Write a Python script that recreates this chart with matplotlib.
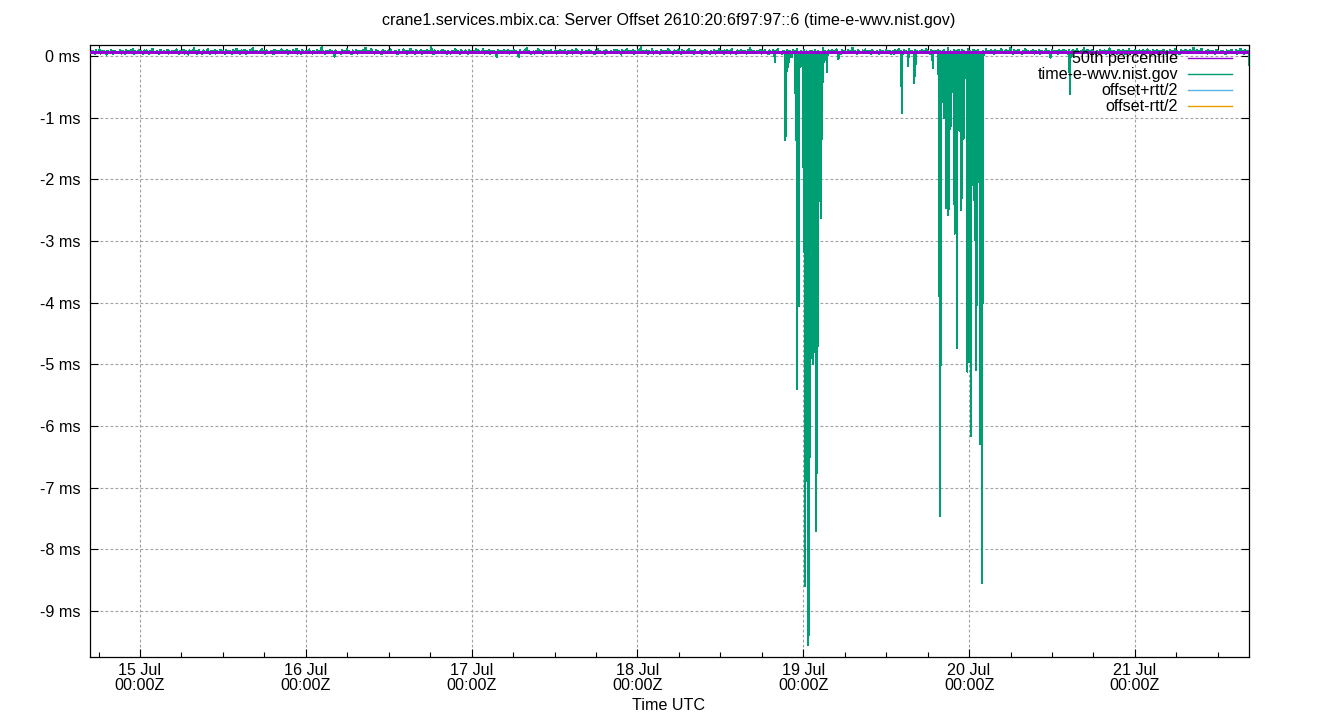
import numpy as np
import matplotlib
matplotlib.use("Agg")
import matplotlib.pyplot as plt
import matplotlib.dates as mdates
from matplotlib.lines import Line2D
from datetime import datetime

plt.rcParams['font.family'] = ['Liberation Sans', 'DejaVu Sans']

TITLE = "crane1.services.mbix.ca: Server Offset 2610:20:6f97:97::6 (time-e-wwv.nist.gov)"
X_LABEL = "Time UTC"
SERVER = "time-e-wwv.nist.gov"
LEGEND_LABELS = ["50th percentile", SERVER, "offset+rtt/2", "offset-rtt/2"]
COLORS = ["#9400d3", "#009e73", "#56b4e9", "#e69f00"]

epoch = datetime(2024, 7, 15)          # 15 Jul 00:00Z
x_range_h = [-7.24, 160.51]            # hours from epoch
y_range_ms = [-9.75, 0.18]
y_ticks_ms = [0, -1, -2, -3, -4, -5, -6, -7, -8, -9]

# baseline offsets (microseconds), one sample every 10 minutes
base_start_h = -7.2
base_step_h = 1.0 / 6.0
base_us = [
    62, 45, 88, 71, 30, 95, 58, 66, 112, 40, 77, 52, 84, 63, 25, 90, 70, 48, 101, 57, 35, 82, 68, 74,
    70, 52, 97, 41, 83, 66, 29, 104, 58, 75, 47, 92, 63, 118, 39, 80, 56, 72, 99, 44, 86, 61, 33, 95,
    50, 93, 61, 38, 79, 66, 120, 44, 72, 55, 87, 60, 31, 98, 64, 47, 83, 69, 58, 105, 42, 76, 53, 89,
    64, 78, 49, 110, 57, 36, 89, 71, 53, 101, 42, 84, 67, 25, 93, 60, 76, 48, 127, 55, 81, 38, 97, 62,
    67, 36, 91, 59, 73, 48, 110, 62, 28, 85, 70, 54, 96, 41, 78, 65, 57, 102, 46, 80, 61, 33, 92, 69,
    45, 87, 73, 31, 99, 59, 68, 114, 50, 79, 42, 91, 65, 56, 103, 37, 82, 70, 47, 96, 61, 132, 54, 77,
    55, 86, 43, 75, 64, 118, 50, 81, 37, 94, 60, 72, 49, 88, 66, 27, 99, 58, 76, 45, 84, 63, 107, 52,
    88, 43, 69, 100, 35, 83, 62, 57, 94, 48, 75, 121, 40, 86, 66, 28, 98, 59, 73, 51, 90, 64, 107, 46,
    71, 39, 90, 62, 56, 97, 44, 79, 68, 155, 51, 74, 35, 87, 65, 59, 103, 48, 82, 60, -8, 93, 70, 57,
    72, 58, 39, 96, 67, 84, 50, 113, 44, 79, 61, 30, 92, 70, 55, 102, 41, 87, 63, 76, 48, 99, 57, 134,
    78, 46, 89, 64, 115, 53, 72, 40, 95, 61, 83, 50, 68, 32, 100, 58, 77, 66, 44, 91, 63, 108, 55, 74,
    53, 81, 65, 27, 97, 60, 74, 46, 108, 56, 89, 38, 78, 64, 120, 50, 85, 68, 33, 94, 59, 71, 45, 100,
    38, 86, 69, 52, 97, 60, 80, 47, 150, 65, 29, 92, 71, 56, 84, 43, 76, 62, 104, 50, 88, 67, 34, 79,
    66, 42, 90, 77, 55, 111, 48, 83, 62, 36, 98, 58, 73, 51, 92, 67, 29, 104, 60, 80, 46, 88, 65, 117,
    61, 94, 48, 73, 58, 111, 42, 85, 66, 54, 98, 37, 77, 63, 89, 51, 70, -18, 96, 59, 82, 68, 45, 101,
    49, 76, 59, 95, 40, 85, 69, 54, 103, 44, 81, 63, -15, 97, 57, 74, 50, 91, 66, 126, 43, 82, 61, 38,
    57, 75, 40, 90, 64, 119, 53, 81, 67, 33, 93, 60, 78, 46, 87, 62, 106, 49, 72, 58, 95, 39, 84, 66,
    93, 58, 79, 47, 106, 64, 32, 88, 71, 55, 99, 41, 84, 62, 115, 52, 77, 67, 35, 96, 60, 73, 48, 90,
    55, 99, 44, 80, 63, 71, 28, 91, 59, 113, 48, 76, 65, 52, 88, 36, 97, 61, 74, 43, 85, 68, 57, 102,
    57, 102, 45, 80, 68, 26, 94, 61, 75, 52, 119, 43, 87, 65, 56, 100, 38, 83, 70, 49, 97, 59, 142, 54,
    47, 79, 62, 94, 35, 83, 70, 56, 109, 41, 73, 60, 90, 51, 66, 30, 98, 64, 77, 49, 87, 58, 122, 45,
    76, 63, 37, 91, 58, 82, 47, 109, 66, 30, 95, 60, 78, 51, 88, 69, 123, 44, 85, 62, 34, 99, 56, 72,
    71, 63, 92, 39, 81, 57, 100, 46, 75, 68, 27, 89, 60, 54, 96, 42, 78, 65, 114, 50, 84, 61, 37, 93,
    48, 97, 64, 81, 41, 112, 59, 74, 53, 28, 92, 67, 57, 105, 45, 86, 63, 79, 39, 94, 70, 131, 51, 83,
    58, 76, 44, 88, 69, 53, 105, 40, 82, 62, 95, 48, 73, 31, 91, 64, 57, 99, 45, 80, 67, 117, 52, 74,
    60, 36, 89, 73, 55, 101, 46, 84, 65, -20, 96, 58, 77, 50, 116, 62, 42, 90, 68, 54, 98, 40, 81, 66,
    36, 90, 60, 78, 47, 101, 63, 55, 86, 42, 72, 66, 128, 49, 83, 58, -12, 94, 70, 61, 97, 43, 79, 65,
    107, 49, 75, 61, 33, 93, 57, 86, 70, 45, 103, 64, 79, 52, 137, 43, 88, 60, 27, 95, 67, 74, 48, 91,
    53, 108, 46, 77, 62, 89, 34, 96, 59, 74, 50, 85, 68, 41, 103, 57, 80, 63, 48, 92, 71, 55, 87, 38,
    63, 80, 38, 99, 56, 72, 118, 47, 85, 62, 34, 97, 59, 76, 51, 108, 44, 89, 66, 55, 94, 41, 83, 69,
    75, 64, 99, 45, 82, 60, 116, 52, 70, 33, 94, 58, 77, 49, 88, 66, 106, 43, 81, 61, 29, 97, 56, 73,
    52, 125, 46, 78, 64, 31, 92, 60, 87, 49, 104, 67, 57, 96, 39, 82, 71, 54, 112, 45, 90, 63, 29, 100,
    62, 86, 47, 104, 59, 72, 38, 91, 65, 54, 110, 44, 79, 67, 93, 51, 76, 30, 98, 63, 85, 57, 71, 121,
    58, 74, 43, 95, 68, 85, 50, 133, 61, 36, 93, 56, 79, 47, 101, 65, 72, 40, 88, 59, 117, 53, 81, 66,
    48, 83, 60, 95, 41, 78, 66, 52, 100, 37, 87, 62, 73, 56, 112, 45, 80, 69, -25, 94, 58, 76, 64, 90,
    35, 98, 62, 77, 48, 106, 57, 84, 69, 42, 91, 64, -10, 96, 55, 80, 46, 113, 60, 73, 51, 89, 67, 128,
    50, 71, 106, 43, 84, 61, 97, 55, 74, 35, 89, 67, 58, 102, 46, 81, 63, 92, 39, 77, 68, 124, 53, 86,
    44, 86, 59, 71, 37, 102, 63, 78, 50, 95, 66, 30, 90, 57, 121, 48, 83, 68, 41, 99, 61, 75, 53, 92,
    59, 40, 95, 65, 78, 49, 109, 57, 83, 62, 31, 91, 70, 54, 98, 44, 75, 66, 87, 51, 103, 60, 36, 80,
    70, 45, 97, 62, 84, 55, 110, 39, 81, 64, 27, 94, 58, 76, 49, 105, 67, 86, 43, 96, 60, 72, 139, 51,
    67, 93, 46, 79, 58, 115, 52, 72, 64, 88, 41, 97, 61, 77, 55, 84, 69, 32, 100, 63, 74, 48, 90, 57,
    79, 57, 34, 91, 65, 88, 47, 103, 61, 74, 52, 97, 40, 85, 69, 119, 56, 78, 31, 93, 63, 82, 46, 100,
]

# excursion samples: hours from epoch, offset in ms
spike_h = [
    91.90,
    93.42, 93.52, 93.68, 93.81,
    94.94, 95.06, 95.13, 95.21, 95.35, 95.42, 95.59, 95.74, 96.00, 96.13,
    96.18, 96.25, 96.33, 96.43, 96.51, 96.59, 96.69, 96.76, 96.85, 96.92,
    97.01, 97.08, 97.15, 97.21, 97.30, 97.37, 97.46, 97.53, 97.61, 97.72,
    97.81, 97.88, 97.97, 98.04, 98.13, 98.20, 98.31, 98.41, 98.56, 98.64,
    98.74, 98.83, 99.04, 99.46,
    101.09, 110.28, 111.15, 112.06, 112.17,
    114.77, 115.47, 115.57, 115.68, 115.83, 115.91, 116.12, 116.22, 116.41, 116.50,
    116.68, 116.77, 116.89, 117.01, 117.08, 117.20, 117.30, 117.40, 117.59, 117.84,
    117.91, 118.00, 118.10, 118.24, 118.33, 118.46, 118.56, 118.65, 118.78, 118.89,
    118.99, 119.11, 119.20, 119.31, 119.44, 119.54, 119.69, 119.76, 119.85, 119.93,
    120.02, 120.13, 120.27, 120.36, 120.46, 120.56, 120.70, 120.85, 120.95, 121.05,
    121.17, 121.31, 121.43, 121.60, 121.69, 121.79, 121.90, 122.00, 122.15,
    134.60, 160.50,
]
spike_ms = [
    -0.10,
    -1.37, -0.42, -0.25, -0.18,
    -1.20, -2.44, -5.40, -0.05, -4.05, -0.10, -0.18, -0.10, -1.80, 0.02,
    -3.20, -8.60, -3.70, -4.20, -6.90, -3.60, -9.55, -3.15, -9.40, -2.10,
    -6.50, -2.45, -0.05, -4.90, -2.80, -5.00, 0.00, -4.80, -3.30, -4.50,
    -7.70, -2.40, -6.77, -2.60, -4.70, -0.05, -2.36, 0.05, -2.63, 0.02,
    -1.34, 0.04, -0.10, -0.26,
    -0.05, -0.92, -0.16, -0.44, -0.33,
    -0.20, -0.15, -0.29, -3.90, -7.47, 0.02, -0.75, 0.03, -1.00, -0.75,
    -2.47, -1.82, -0.85, -2.58, -0.95, -0.55, -1.18, 0.02, -0.58, -1.40,
    -2.88, -0.35, -1.20, -4.74, -0.30, -1.20, -0.07, -1.22, -0.40, -2.50,
    -1.15, -0.66, -1.34, -0.20, -0.07, -0.35, -2.77, -5.12, -4.10, -4.80,
    -4.96, -0.80, -6.17, -1.40, -2.10, -1.30, -2.33, -2.98, -1.07, -5.09,
    -0.90, -2.04, -0.60, -6.30, -1.80, -6.30, -8.55, -0.07, 0.03,
    -0.62, -0.15,
]

# ---- assemble series ----
base_h = base_start_h + np.arange(len(base_us)) * base_step_h
hours = np.concatenate([base_h, np.array(spike_h)])
vals = np.concatenate([np.array(base_us) / 1000.0, np.array(spike_ms)])
order = np.argsort(hours)
hours, vals = hours[order], vals[order]
t0 = mdates.date2num(epoch)
xs = t0 + hours / 24.0
p50 = np.percentile(vals, 50)

FS = 11.6
W, H, DPI = 1340, 720, 100
fig = plt.figure(figsize=(W / DPI, H / DPI), dpi=DPI)
ax = fig.add_axes([90 / W, 1 - 657 / H, (1249 - 90) / W, (657 - 45) / H])

gridkw = dict(color="#a0a0a0", lw=0.8, ls=(0, (2.5, 2.0)))
ax.grid(True, which="major", **gridkw)
ax.set_axisbelow(True)

ax.plot(xs, vals, color=COLORS[1], lw=0.75, zorder=3, antialiased=False)
ax.axhline(p50, color=COLORS[0], lw=0.75, zorder=4, antialiased=False)

ax.set_xlim(t0 + x_range_h[0] / 24.0, t0 + x_range_h[1] / 24.0)
ax.set_ylim(*y_range_ms)

ax.xaxis.set_major_locator(mdates.DayLocator())
ax.xaxis.set_major_formatter(mdates.DateFormatter("%d %b\n%H:%MZ"))
ax.xaxis.set_minor_locator(mdates.HourLocator(byhour=[6, 12, 18]))
ax.set_yticks(y_ticks_ms)
ax.set_yticklabels([f"{v} ms" for v in y_ticks_ms])

ax.tick_params(axis="both", which="major", direction="in", length=6, width=0.8,
               top=True, right=True, labelsize=FS, colors="black")
ax.tick_params(axis="x", which="minor", direction="in", length=3.5, width=0.8,
               top=True, bottom=True)
ax.tick_params(axis="x", which="major", pad=4)
ax.tick_params(axis="y", which="major", pad=7)
for lab in ax.get_xticklabels():
    lab.set_linespacing(1.05)
for s in ax.spines.values():
    s.set_linewidth(0.9)
    s.set_color("black")

fig.text(669 / W, 1 - 21 / H, TITLE, ha="center", va="center", fontsize=FS)
fig.text(669 / W, 1 - 706 / H, X_LABEL, ha="center", va="center", fontsize=FS)

legend_handles = [Line2D([], [], color=c, lw=1.0) for c in COLORS]
leg = ax.legend(legend_handles, LEGEND_LABELS,
                loc="upper right", bbox_to_anchor=(1232 / W, 1 - 51.5 / H),
                bbox_transform=fig.transFigure, frameon=False, markerfirst=False,
                fontsize=FS, handlelength=2.73, handletextpad=0.62,
                labelspacing=0.06, borderpad=0, borderaxespad=0)
for txt in leg.get_texts():
    txt.set_ha("right")

fig.savefig("out.png", dpi=DPI)
